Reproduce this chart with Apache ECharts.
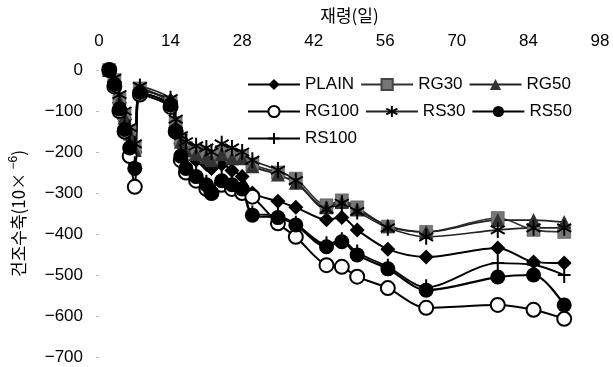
<!DOCTYPE html>
<html><head><meta charset="utf-8">
<script src="https://cdn.jsdelivr.net/npm/echarts@6/dist/echarts.min.js"></script>
<style>html,body{margin:0;padding:0;background:#fff}#c{width:613px;height:367px}</style>
</head><body><div id="c"></div>
<script>
const xTicks = [0, 14, 28, 42, 56, 70, 84, 98];
const yTicks = [0, -100, -200, -300, -400, -500, -600, -700];
const days = [2, 3, 4, 5, 6, 7, 8, 14, 15, 16, 17, 19, 21, 22, 24, 26, 28, 30, 35, 38.5, 44.5, 47.5, 50.5, 56.5, 64, 78, 85, 91];
const PLAIN = [0, -30, -80, -120, -160, -200, -50, -75, -140, -180, -200, -220, -230, -240, -230, -245, -260, -300, -320, -335, -365, -360, -390, -437, -456, -434, -468, -471];
const RG30  = [0, -25, -70, -110, -150, -190, -45, -80, -130, -170, -190, -200, -210, -215, -200, -210, -210, -230, -250, -265, -330, -318, -335, -382, -395, -361, -390, -395];
const RG50  = [0, -25, -75, -115, -155, -195, -45, -78, -135, -175, -195, -205, -212, -220, -205, -215, -215, -235, -255, -275, -335, -322, -340, -380, -395, -366, -366, -371];
const RG100 = [0, -40, -100, -150, -210, -285, -60, -90, -150, -220, -250, -270, -290, -300, -280, -290, -300, -309, -374, -407, -476, -480, -504, -532, -580, -573, -585, -607];
const RS30  = [0, -20, -60, -100, -140, -180, -40, -70, -120, -160, -175, -185, -190, -200, -180, -190, -200, -220, -244, -270, -340, -325, -345, -385, -407, -390, -385, -385];
const RS50  = [0, -35, -95, -145, -190, -240, -55, -85, -150, -210, -240, -260, -280, -300, -270, -280, -290, -354, -360, -378, -431, -419, -451, -485, -537, -505, -500, -573];
const RS100 = [0, -30, -90, -140, -185, -230, -55, -85, -145, -205, -235, -255, -275, -290, -265, -275, -285, -350, -355, -375, -425, -415, -445, -480, -530, -471, -475, -500];
const names = ['PLAIN', 'RG30', 'RG50', 'RG100', 'RS30', 'RS50', 'RS100'];
const values = [PLAIN, RG30, RG50, RG100, RS30, RS50, RS100];

const star = 'path://M0,-10L0,10M-8.7,-5L8.7,5M-8.7,5L8.7,-5';
const plus = 'path://M0,-10L0,10M-8,0L8,0';
const styles = {
  PLAIN: {symbol: 'diamond', symbolSize: 15, itemStyle: {color: '#000'}, lineStyle: {color: '#000', width: 2}},
  RG30: {symbol: 'rect', symbolSize: 13, itemStyle: {color: '#777', borderColor: '#444', borderWidth: 0.5}, lineStyle: {color: '#333', width: 1.6}},
  RG50: {symbol: 'triangle', symbolSize: 14, itemStyle: {color: '#333'}, lineStyle: {color: '#222', width: 1.8}},
  RG100: {symbol: 'circle', symbolSize: 14, itemStyle: {color: '#fff', borderColor: '#000', borderWidth: 2}, lineStyle: {color: '#000', width: 2}},
  RS30: {symbol: star, symbolSize: 16, itemStyle: {color: 'none', borderColor: '#000', borderWidth: 2}, lineStyle: {color: '#222', width: 1.6}},
  RS50: {symbol: 'circle', symbolSize: 15, itemStyle: {color: '#000'}, lineStyle: {color: '#000', width: 2.2}},
  RS100: {symbol: plus, symbolSize: 16, itemStyle: {color: 'none', borderColor: '#000', borderWidth: 2}, lineStyle: {color: '#000', width: 1.8}}
};
const series = names.map((n, i) => Object.assign({
  name: n, type: 'line', smooth: 0.3,
  data: days.map((d, j) => [d, values[i][j]]),
  showSymbol: true, symbolKeepAspect: true,
  emphasis: {disabled: true}
}, styles[n]));

const font = 'Liberation Sans, Arial, sans-serif';
const legendBase = {itemWidth: 52, itemHeight: 14, itemGap: 6, textStyle: {fontFamily: font, fontSize: 17, color: '#000', width: 52}, padding: 0};
const chart = echarts.init(document.getElementById('c'), null, {renderer: 'canvas'});
chart.setOption({
  animation: false,
  backgroundColor: '#fff',
  grid: {left: 90, right: 13, top: 70, bottom: 10},
  legend: [
    Object.assign({top: 76, left: 247, data: ['PLAIN', 'RG30', 'RG50']}, legendBase),
    Object.assign({top: 103, left: 247, data: ['RG100', 'RS30', 'RS50']}, legendBase),
    Object.assign({top: 130, left: 247, data: ['RS100']}, legendBase)
  ],
  xAxis: {
    type: 'value', position: 'top', min: 0, max: 98, interval: 14,
    name: '재령(일)', nameLocation: 'middle', nameGap: 46,
    nameTextStyle: {fontFamily: 'Noto Sans CJK KR', fontSize: 17, color: '#000'},
    axisLine: {show: false}, axisTick: {show: false}, splitLine: {show: false},
    axisLabel: {fontFamily: font, fontSize: 17, color: '#000', margin: 20}
  },
  yAxis: {
    type: 'value', min: -700, max: 0, interval: 100,
    name: '{a|건조수축(10×}{b| −6}{a|)}', nameLocation: 'middle', nameGap: 70, nameRotate: 90,
    nameTextStyle: {rich: {
      a: {fontFamily: 'Noto Sans CJK KR', fontSize: 17, color: '#000'},
      b: {fontFamily: font, fontSize: 12, color: '#000', padding: [0, 0, 9, 0]}
    }},
    axisLine: {show: false}, axisTick: {show: true, length: 3, lineStyle: {color: '#bbb'}}, splitLine: {show: false},
    axisLabel: {fontFamily: font, fontSize: 17, color: '#000', margin: 16, formatter: v => String(v).replace('-', '−')}
  },
  series: series
});
</script></body></html>
